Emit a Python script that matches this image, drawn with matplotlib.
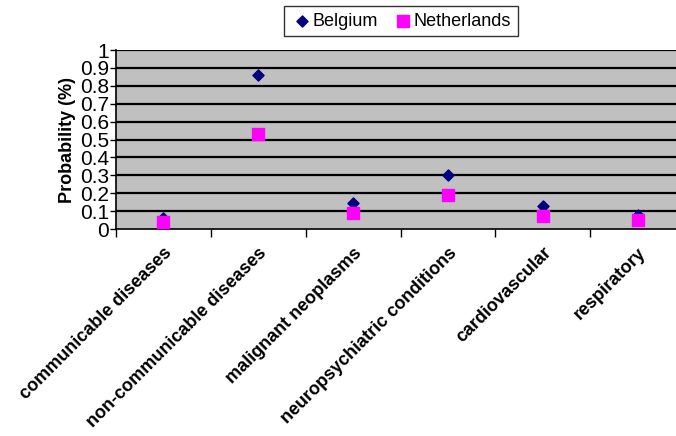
import matplotlib
matplotlib.use("Agg")
import matplotlib.pyplot as plt
import numpy as np

categories = ["communicable diseases", "non-communicable diseases", "malignant neoplasms",
              "neuropsychiatric conditions", "cardiovascular", "respiratory"]
belgium = [0.06, 0.86, 0.145, 0.30, 0.13, 0.08]
netherlands = [0.04, 0.53, 0.09, 0.19, 0.07, 0.05]
yticks = [0, 0.1, 0.2, 0.3, 0.4, 0.5, 0.6, 0.7, 0.8, 0.9, 1]
ytick_labels = ["0", "0.1", "0.2", "0.3", "0.4", "0.5", "0.6", "0.7", "0.8", "0.9", "1"]

plt.rcParams['font.family'] = ['Liberation Sans', 'DejaVu Sans']

W, H = 676, 436
fig = plt.figure(figsize=(W / 100, H / 100), dpi=100)
left, right, top, bottom = 116, 685, 50, 229
ax = fig.add_axes([left / W, 1 - bottom / H, (right - left) / W, (bottom - top) / H])
ax.set_facecolor("#C0C0C0")

x = np.arange(len(categories)) + 0.5
ax.set_xlim(0, len(categories))
ax.set_ylim(0, 1)

for yv in yticks[1:]:
    ax.axhline(yv, color="black", lw=1.6, zorder=1)

ax.scatter(x, belgium, marker="D", s=32, color="#000080", zorder=3, label="Belgium")
ax.scatter(x, netherlands, marker="s", s=70, color="#FF00FF", zorder=4, label="Netherlands")

ax.set_yticks(yticks)
ax.set_yticklabels(ytick_labels, fontsize=15)
ax.tick_params(axis="y", length=4, width=1, pad=1, direction="out")

ax.set_xticks(np.arange(len(categories) + 1))
ax.set_xticklabels([])
ax.tick_params(axis="x", which="major", length=6, width=1, direction="out")
ax.set_xticks(x, minor=True)
ax.set_xticklabels(categories, minor=True, rotation=45, ha="right", rotation_mode="anchor",
                   fontsize=13, fontweight="bold")
ax.tick_params(axis="x", which="minor", length=0, pad=11)

for s in ["top", "right"]:
    ax.spines[s].set_visible(False)
for s in ["left", "bottom"]:
    ax.spines[s].set_color("black")
    ax.spines[s].set_linewidth(1.2)

ax.set_ylabel("Probability (%)", fontsize=13, fontweight="bold", labelpad=3)

leg = ax.legend(loc="center", bbox_to_anchor=(401 / W, 1 - 21 / H), bbox_transform=fig.transFigure,
                ncol=2, frameon=True, fancybox=False, edgecolor="black",
                prop={'size': 13},
                handletextpad=0.0, columnspacing=0.8, handlelength=1.2, borderpad=0.35,
                borderaxespad=0, markerscale=1.0)
leg.get_frame().set_linewidth(1.0)

fig.savefig("out.png", dpi=100)
